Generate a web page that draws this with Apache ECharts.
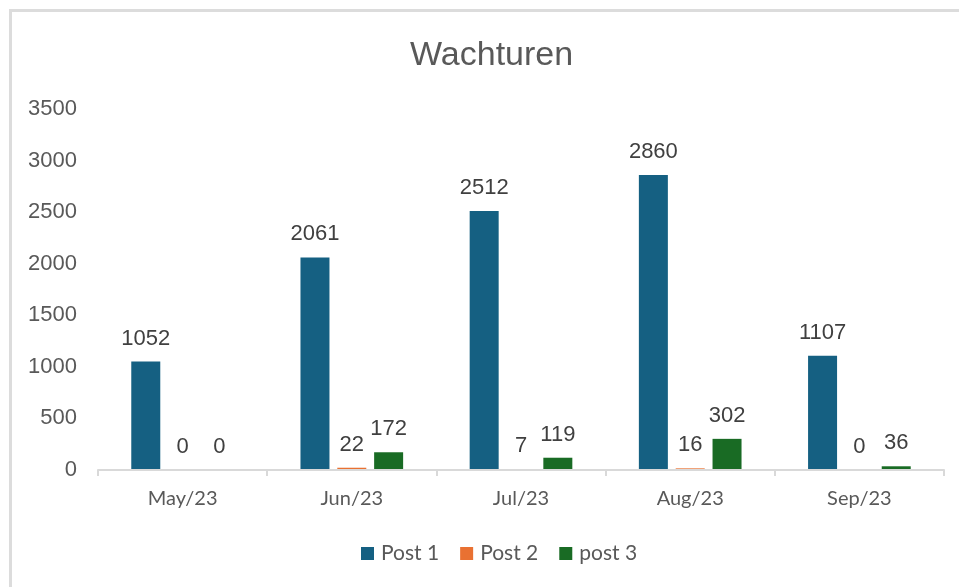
<!DOCTYPE html>
<html lang="de">
<head>
    <meta charset="UTF-8">
    <title>Wachturen</title>
    <script src="https://cdn.jsdelivr.net/npm/echarts@6/dist/echarts.min.js"></script>
    <style>
        html, body { margin: 0; padding: 0; background: #fff; overflow: hidden; }
        .frame { position: absolute; left: 9px; top: 9px; width: 1000px; height: 700px; border: 3px solid #dcdcdc; box-sizing: border-box; }
        #main { position: absolute; left: 0; top: 0; width: 959px; height: 587px; }
    </style>
</head>
<body>
<div class="frame"></div>
<div id="main"></div>
<script>
    // Daten
    var months = ['May/23', 'Jun/23', 'Jul/23', 'Aug/23', 'Sep/23'];
    var post1 = [1052, 2061, 2512, 2860, 1107];
    var post2 = [0, 22, 7, 16, 0];
    var post3 = [0, 172, 119, 302, 36];

    var labelStyle = {
        show: true,
        position: 'top',
        distance: 12,
        color: '#404040',
        fontSize: 22,
        fontFamily: 'Liberation Sans'
    };

    var myChart = echarts.init(document.getElementById('main'));
    var option = {
        backgroundColor: 'transparent',
        title: {
            text: 'Wachturen',
            left: 405,
            top: 34,
            textStyle: {
                color: '#595959',
                fontSize: 34,
                fontWeight: 'normal',
                fontFamily: 'Liberation Sans Narrow, Liberation Sans'
            }
        },
        legend: {
            bottom: 18,
            left: 356,
            itemWidth: 13,
            itemHeight: 13,
            itemGap: 21,
            icon: 'rect',
            textStyle: { color: '#595959', fontSize: 21, fontFamily: 'Lato', padding: [0, 0, 0, 2] },
            data: ['Post 1', 'Post 2', 'post 3']
        },
        grid: { left: 98, right: 15, top: 109, bottom: 117 },
        xAxis: {
            type: 'category',
            data: months,
            z: 3,
            axisLine: { lineStyle: { color: '#d9d9d9', width: 2 } },
            axisTick: { show: true, length: 6, lineStyle: { color: '#d9d9d9', width: 2 } },
            axisLabel: { color: '#595959', fontSize: 20, margin: 19, fontFamily: 'Lato' }
        },
        yAxis: {
            type: 'value',
            min: 0,
            max: 3500,
            interval: 500,
            axisLine: { show: false },
            axisTick: { show: false },
            splitLine: { show: false },
            axisLabel: {
                color: '#595959', fontSize: 22, margin: 21, fontFamily: 'Liberation Sans',
                formatter: function (v) { return String(v); }
            }
        },
        series: [
            { name: 'Post 1', type: 'bar', data: post1, barWidth: 29, barGap: '27%',
                itemStyle: { color: '#156082' }, label: labelStyle },
            { name: 'Post 2', type: 'bar', data: post2, barWidth: 29, barGap: '27%',
                itemStyle: { color: '#E97132' }, label: labelStyle },
            { name: 'post 3', type: 'bar', data: post3, barWidth: 29, barGap: '27%',
                itemStyle: { color: '#196B24' }, label: labelStyle }
        ]
    };
    myChart.setOption(option);
</script>
</body>
</html>
